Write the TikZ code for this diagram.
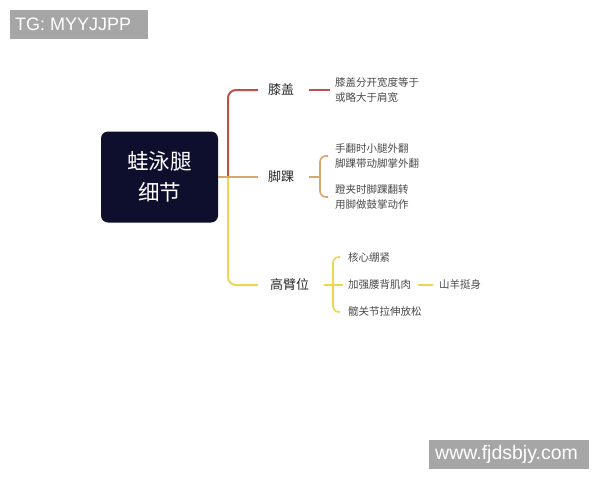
\documentclass[tikz,border=0pt]{standalone}
\usepackage{fontspec}
\setmainfont{Liberation Sans}
\newfontfamily\cjk{Noto Sans CJK SC}
\definecolor{redl}{HTML}{C0504D}
\definecolor{oral}{HTML}{D9A66B}
\definecolor{yell}{HTML}{EED650}
\definecolor{navy}{HTML}{0E0F2C}
\definecolor{wmgray}{HTML}{A6A6A6}
\definecolor{txt}{HTML}{2A2A2A}
\definecolor{subtxt}{HTML}{4A4A4A}
\begin{document}
\begin{tikzpicture}[x=1pt,y=-1pt,
  wm/.style={fill=wmgray,anchor=north west,inner sep=0pt},
  wmt/.style={anchor=west,inner sep=0pt,text=white},
  mainbox/.style={fill=navy,rounded corners=7pt,text=white,align=center,font=\cjk\fontsize{21.5}{31}\selectfont,minimum width=117pt,minimum height=91pt},
  lab/.style={anchor=west,inner sep=0pt,text=txt,font=\cjk\fontsize{13}{15}\selectfont},
  sub/.style={anchor=west,inner sep=0pt,text=subtxt,align=left,font=\cjk\fontsize{10.5}{14.5}\selectfont},
  trunk/.style={line width=2pt},
  br/.style={line width=1.6pt}]
\useasboundingbox (0,0) rectangle (600,480);
\fill[white] (0,0) rectangle (600,480);
% watermarks
\node[wm,minimum width=138pt,minimum height=29pt] (tg) at (10,10) {};
\node[wmt,font=\fontsize{18}{20}\selectfont] (tgt) at (15,24.5) {TG: MYYJJPP};
\node[wm,minimum width=160pt,minimum height=29pt] (web) at (429,440) {};
\node[wmt,font=\fontsize{19.5}{22}\selectfont] (webt) at (435,454.5) {www.fjdsbjy.com};
% main
\node[mainbox] (main) at (159.5,177) {蛙泳腿\\细节};
\coordinate (tr) at (228,177);
% level 1
\node[lab] (knee) at (268,90) {膝盖};
\node[lab] (ankle) at (268,177) {脚踝};
\node[lab] (high) at (270,285) {高臂位};
\draw[trunk,redl,rounded corners=8pt] ([xshift=-10pt]knee.west) -| (tr);
\draw[trunk,yell,rounded corners=8pt] (tr) |- ([xshift=-12pt]high.west);
\draw[trunk,oral] (main.east) -- ([xshift=-10pt]ankle.west);
% knee
\node[sub] (kt) at (335,90) {膝盖分开宽度等于\\或略大于肩宽};
\draw[br,redl] ([xshift=15pt]knee.east) -- ([xshift=-5pt]kt.west);
% ankle
\node[sub] (a1) at (335,156) {手翻时小腿外翻\\脚踝带动脚掌外翻};
\node[sub] (a2) at (335,197) {蹬夹时脚踝翻转\\用脚做鼓掌动作};
\coordinate (ab) at (320,177);
\draw[br,oral] ([xshift=15pt]ankle.east) -- (ab);
\draw[br,oral,rounded corners=6pt] ([xshift=-7pt]a1.west) -| (ab) |- ([xshift=-7pt]a2.west);
% high
\node[sub] (h1) at (348,257) {核心绷紧};
\node[sub] (h2) at (348,285) {加强腰背肌肉};
\node[sub] (h3) at (348,312) {髋关节拉伸放松};
\node[sub] (goat) at (439,285) {山羊挺身};
\coordinate (hb) at (333,285);
\draw[br,yell] ([xshift=15pt]high.east) -- ([xshift=-5pt]h2.west);
\draw[br,yell,rounded corners=6pt] ([xshift=-8pt]h1.west) -| (hb) |- ([xshift=-8pt]h3.west);
\draw[br,yell] ([xshift=7pt]h2.east) -- ([xshift=-6pt]goat.west);
\end{tikzpicture}
\end{document}
